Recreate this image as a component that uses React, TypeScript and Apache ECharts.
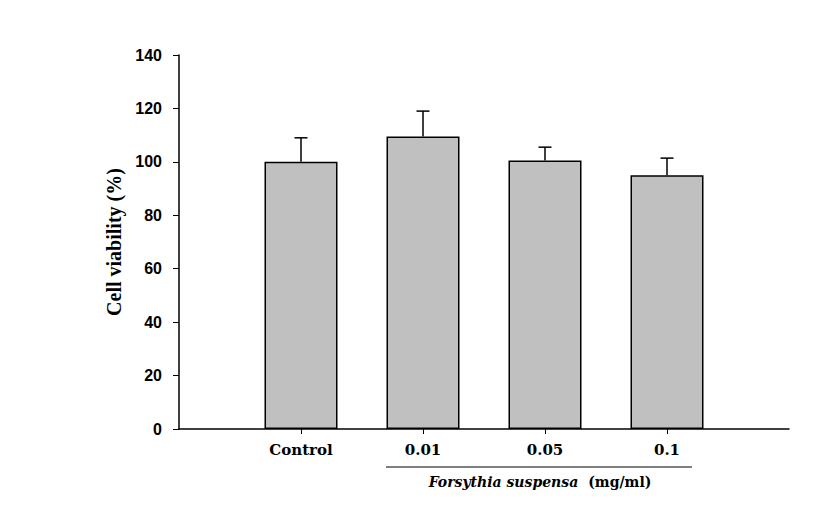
import React, { useEffect, useRef } from "react";
import * as echarts from "echarts";

const categories = ["", "Control", "0.01", "0.05", "0.1", ""];
const meanValues = [null, 100, 109.5, 100.5, 95, null];
const errorValues = [null, 9, 9.5, 5, 6.4, null];
const yTicks = { min: 0, max: 140, interval: 20 };
const axisTitle = "Cell viability (%)";
const groupLabelItalic = "Forsythia suspensa";
const groupLabelUnit = "(mg/ml)";

export default function App() {
  const ref = useRef<HTMLDivElement>(null);
  useEffect(() => {
    if (!ref.current) return;
    const chart = echarts.init(ref.current, null, { renderer: "svg" });
    const errData = categories
      .map((_, i) => (meanValues[i] == null ? null : [i, meanValues[i], errorValues[i]]))
      .filter((d) => d !== null);
    chart.setOption({
      animation: false,
      backgroundColor: "#ffffff",
      grid: { left: 179, top: 55, right: 36, bottom: 92, containLabel: false },
      xAxis: {
        type: "category",
        data: categories,
        boundaryGap: false,
        axisLine: { lineStyle: { color: "#000", width: 1.5 } },
        axisTick: {
          length: 5,
          interval: (index: number, value: string) => value !== "",
          lineStyle: { color: "#000", width: 1 },
        },
        axisLabel: {
          interval: 0,
          margin: 13,
          color: "#000",
          fontFamily: "DejaVu Serif",
          fontWeight: "bold",
          fontSize: 15,
        },
        splitLine: { show: false },
      },
      yAxis: {
        type: "value",
        min: yTicks.min,
        max: yTicks.max,
        interval: yTicks.interval,
        name: axisTitle,
        nameLocation: "middle",
        nameGap: 54,
        nameRotate: 90,
        nameTextStyle: {
          color: "#000",
          fontFamily: "Liberation Serif",
          fontWeight: "bold",
          fontSize: 20,
        },
        axisLine: { show: true, lineStyle: { color: "#000", width: 1.5 } },
        axisTick: { show: true, length: 6, lineStyle: { color: "#000", width: 1 } },
        axisLabel: {
          margin: 17,
          color: "#000",
          fontFamily: "Liberation Sans",
          fontWeight: "bold",
          fontSize: 16,
        },
        splitLine: { show: false },
      },
      series: [
        {
          type: "bar",
          data: meanValues.map((v) => (v == null ? "-" : v)),
          barWidth: 73,
          itemStyle: { color: "#c0c0c0", borderColor: "#000", borderWidth: 1.5 },
          z: 2,
        },
        {
          type: "custom",
          data: errData,
          z: 3,
          renderItem: (params: any, api: any) => {
            const x = api.value(0);
            const m = api.value(1);
            const e = api.value(2);
            const base = api.coord([x, m]);
            const top = api.coord([x, m + e]);
            const half = 6.5;
            return {
              type: "group",
              children: [
                {
                  type: "line",
                  shape: { x1: base[0], y1: base[1], x2: top[0], y2: top[1] },
                  style: { stroke: "#000", lineWidth: 1.5 },
                },
                {
                  type: "line",
                  shape: { x1: top[0] - half, y1: top[1], x2: top[0] + half, y2: top[1] },
                  style: { stroke: "#000", lineWidth: 1.5 },
                },
              ],
            };
          },
        },
      ],
      graphic: [
        {
          type: "line",
          shape: { x1: 386, y1: 467, x2: 692, y2: 467 },
          style: { stroke: "#000", lineWidth: 1 },
        },
        {
          type: "text",
          x: 540,
          y: 482,
          style: {
            text: `{i|${groupLabelItalic}}   {b|${groupLabelUnit}}`,
            align: "center",
            verticalAlign: "middle",
            fill: "#000",
            rich: {
              i: {
                fontFamily: "DejaVu Serif",
                fontStyle: "italic",
                fontWeight: "bold",
                fontSize: 14,
                fill: "#000",
              },
              b: {
                fontFamily: "DejaVu Serif",
                fontWeight: "bold",
                fontSize: 14,
                fill: "#000",
              },
            },
          },
        },
      ],
    });
    return () => chart.dispose();
  }, []);
  return (
    <div
      ref={ref}
      style={{ position: "fixed", left: 0, top: 0, width: 825, height: 521, background: "#fff" }}
    />
  );
}
